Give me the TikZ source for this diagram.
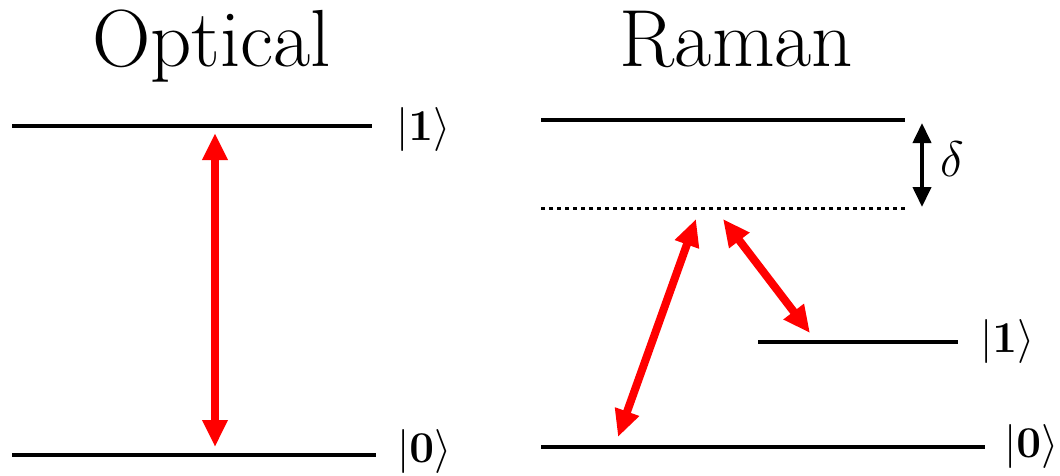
\RequirePackage{fix-cm}
\documentclass[tikz,border=0pt]{standalone}
\usepackage{amsmath}
\usetikzlibrary{arrows.meta}
\DeclareFontFamily{OT1}{cmten}{}
\DeclareFontShape{OT1}{cmten}{m}{n}{<-> cmr10}{}
\tikzset{
  level/.style={line width=4pt, black},
  virtual/.style={line width=3pt, black, dash pattern=on 3.5pt off 4.5pt},
  laser/.style={line width=8pt, red, {Triangle[length=27pt,width=24pt]}-{Triangle[length=27pt,width=24pt]}},
  detuning/.style={line width=4pt, black, {Triangle[length=20pt,width=18pt]}-{Triangle[length=20pt,width=18pt]}},
  ket/.style={anchor=west, inner sep=0pt, font=\fontsize{44}{50}\selectfont},
  title/.style={anchor=base, inner sep=0pt, font=\fontfamily{cmten}\fontsize{81}{92}\selectfont},
}
\begin{document}
\begin{tikzpicture}[x=1pt,y=-1pt]
\useasboundingbox (0,0) rectangle (1060,475);
% titles
\node[title] (tOpt) at (211.5,66) {Optical};
\node[title] (tRam) at (736.5,66) {Raman};
% optical levels
\coordinate (o1a) at (12,126); \coordinate (o1b) at (372,126);
\coordinate (o0a) at (12,455); \coordinate (o0b) at (376,455);
\draw[level] (o1a) -- (o1b);
\draw[level] (o0a) -- (o0b);
\node[ket] (ko1) at (396,129) {$|\mathbf{1}\rangle$};
\node[ket] (ko0) at (397,451) {$|\mathbf{0}\rangle$};
\coordinate (oUp) at (215,133); \coordinate (oDn) at (215,447);
\draw[laser] (oDn) -- (oUp);
% raman levels
\coordinate (rea) at (541,120); \coordinate (reb) at (905,120);
\coordinate (rva) at (541,208); \coordinate (rvb) at (905,208);
\coordinate (r1a) at (758,342); \coordinate (r1b) at (958,342);
\coordinate (r0a) at (541,447); \coordinate (r0b) at (985,447);
\draw[level] (rea) -- (reb);
\draw[virtual] (rva) -- (rvb);
\draw[level] (r1a) -- (r1b);
\draw[level] (r0a) -- (r0b);
\node[ket] (kr1) at (980,341) {$|\mathbf{1}\rangle$};
\node[ket] (kr0) at (1004,446) {$|\mathbf{0}\rangle$};
% detuning
\coordinate (dTop) at (922,123); \coordinate (dBot) at (922,207);
\draw[detuning] (dTop) -- (dBot);
\node[inner sep=0pt, font=\fontsize{50}{56}\selectfont] (delta) at (952,159) {$\delta$};
% raman beams
\coordinate (b1a) at (618,437); \coordinate (b1b) at (696,219);
\coordinate (b2a) at (723,219); \coordinate (b2b) at (810,333);
\draw[laser] (b1a) -- (b1b);
\draw[laser] (b2a) -- (b2b);
\end{tikzpicture}
\end{document}
